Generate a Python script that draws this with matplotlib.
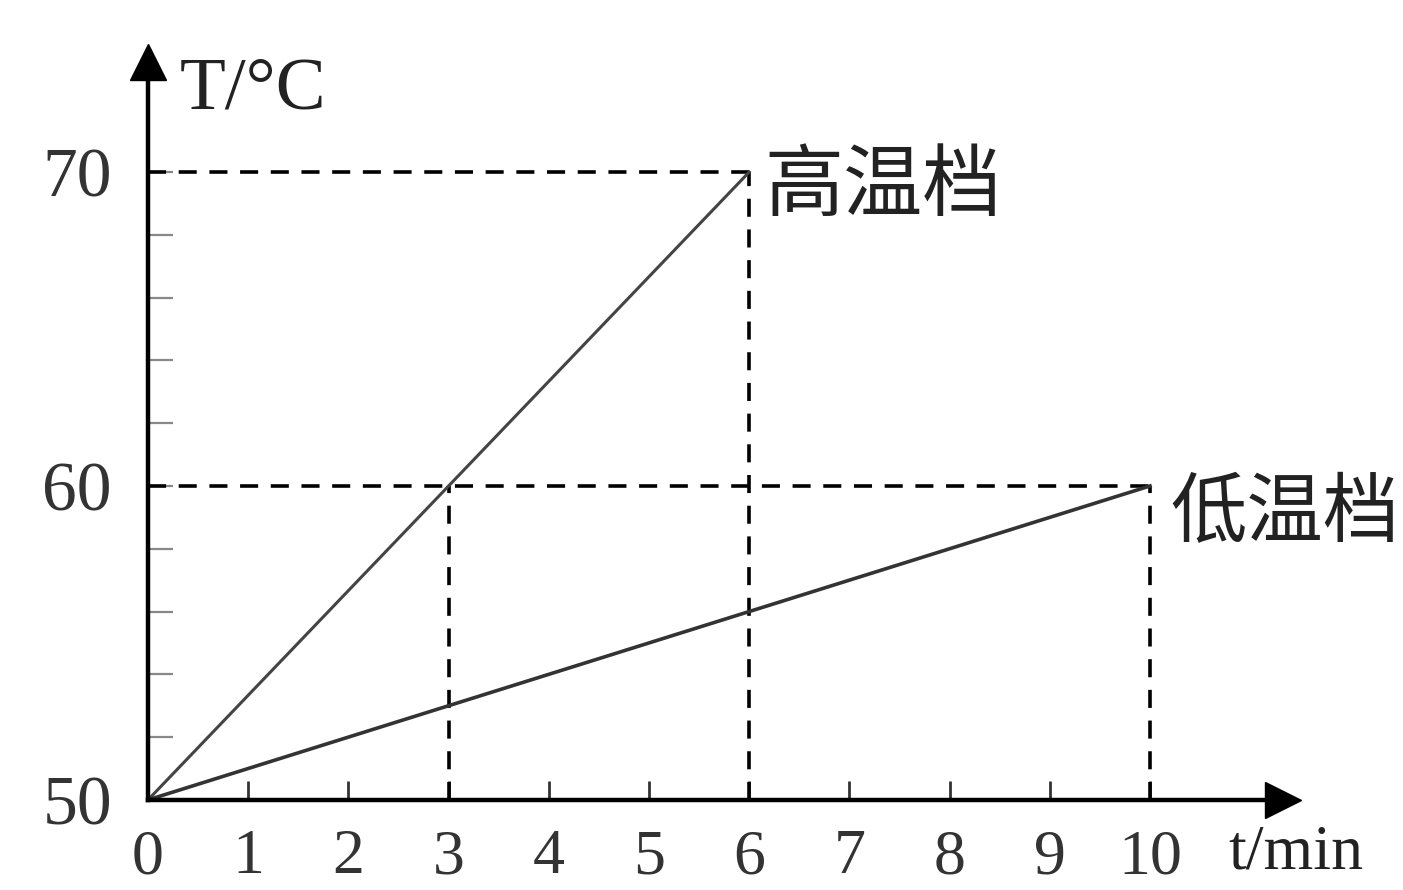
import numpy as np
import matplotlib.pyplot as plt

plt.rcParams['font.family'] = ['Liberation Serif', 'DejaVu Serif']

# data
high_t = [0, 6]
high_T = [50, 70]
low_t = [0, 10]
low_T = [50, 60]
x_ticks = list(range(0, 11))
y_major = [50, 60, 70]
y_minor = [52, 54, 56, 58, 62, 64, 66, 68]
# dashed guide lines: (x0, x1, y0, y1)
guides = [(0, 6, 70, 70), (6, 6, 50, 70), (0, 10, 60, 60), (10, 10, 50, 60), (3, 3, 50, 60)]

fig = plt.figure(figsize=(14.03, 8.9), dpi=100)
ax = fig.add_axes([0, 0, 1, 1])
ax.set_xlim(-1.477, 12.525)
ax.set_ylim(47.13, 75.48)

for s in ['top', 'right']:
    ax.spines[s].set_visible(False)
ax.spines['left'].set_position(('data', 0))
ax.spines['bottom'].set_position(('data', 50))
ax.spines['left'].set_bounds(50, 73.3)
ax.spines['bottom'].set_bounds(0, 11.2)
ax.spines['left'].set_linewidth(3.2)
ax.spines['bottom'].set_linewidth(3.2)

# arrow heads
ax.plot(0, 73.5, marker='^', ms=26, color='black', clip_on=False)
ax.plot(11.33, 50, marker='>', ms=26, color='black', clip_on=False)

ax.set_xticks(x_ticks)
ax.set_xticklabels([str(v) for v in x_ticks])
ax.set_yticks(y_major)
ax.set_yticklabels([str(v) for v in y_major])
ax.set_yticks(y_minor, minor=True)
ax.tick_params(axis='x', direction='in', length=14, width=2, pad=21, labelsize=46, colors='#333333')
ax.tick_params(axis='y', which='both', direction='in', length=18, width=1.6, pad=26, labelsize=50,
               colors='#888888', labelcolor='#333333')

# guide lines
for x0, x1, y0, y1 in guides:
    ax.plot([x0, x1], [y0, y1], color='black', lw=2.6, dashes=(5, 3.5))

# heating lines
ax.plot(high_t, high_T, color='#444444', lw=2.2)
ax.plot(low_t, low_T, color='#333333', lw=2.6)

ax.text(0.32, 72.6, 'T/°C', fontsize=54, ha='left', va='center', color='#222222')
ax.text(10.78, 48.3, 't/min', fontsize=46, ha='left', va='center', color='#222222')
ax.text(6.15, 69.5, '高温档', fontsize=57, ha='left', va='center', color='#222222',
        family=['Noto Sans CJK SC', 'DejaVu Sans'])
ax.text(10.2, 59.1, '低温档', fontsize=55, ha='left', va='center', color='#222222',
        family=['Noto Sans CJK SC', 'DejaVu Sans'])

plt.savefig('out.png', dpi=100)
